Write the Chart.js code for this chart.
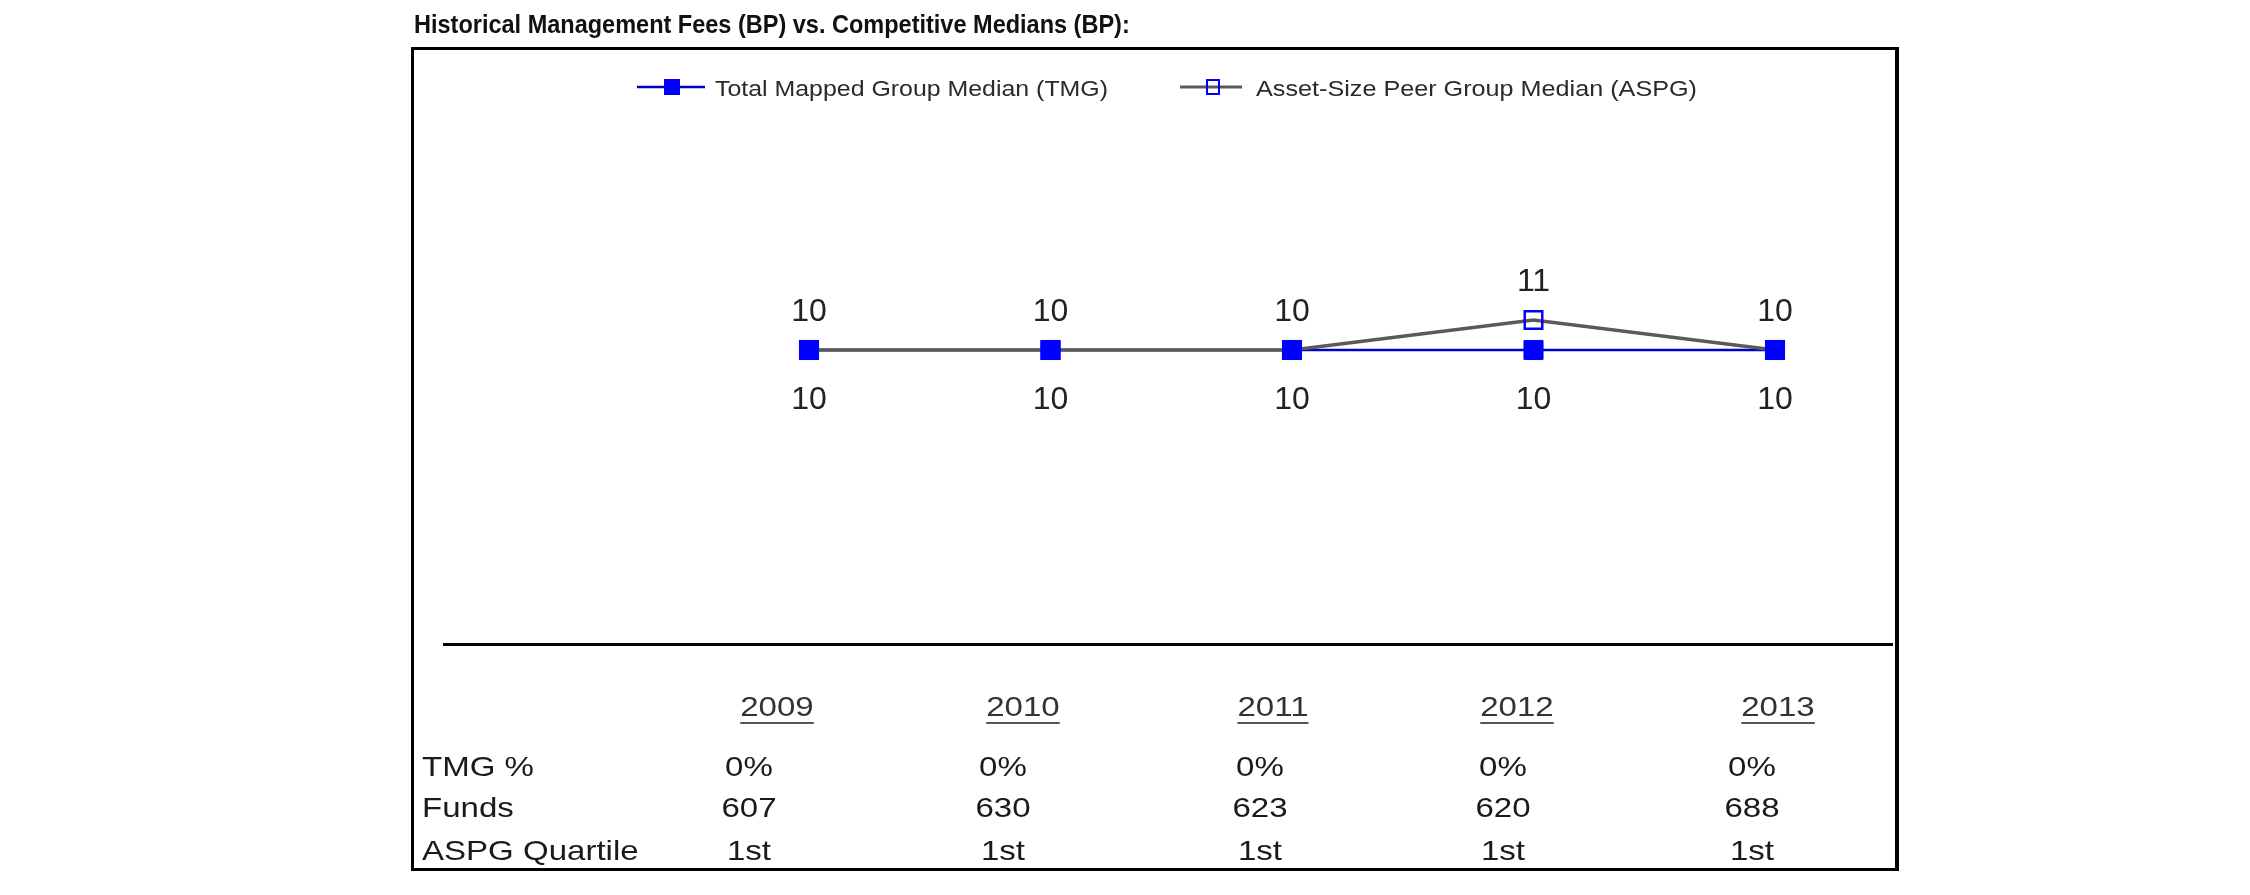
<!DOCTYPE html>
<html><head><meta charset="utf-8">
<script src="https://cdn.jsdelivr.net/npm/chart.js@4.4.1/dist/chart.umd.min.js"></script>
<style>
html,body{margin:0;padding:0;background:#fff;width:2250px;height:895px;overflow:hidden;}
#wrap{position:relative;width:2250px;height:895px;font-family:"Liberation Sans",Arial,sans-serif;}
canvas{position:absolute;left:0;top:0;}
.t{position:absolute;white-space:nowrap;line-height:1;}
#title{left:414px;top:11px;font-size:26px;font-weight:bold;color:#111;transform-origin:0 0;}
#box{position:absolute;left:411px;top:47px;width:1488px;height:824px;box-sizing:border-box;border-style:solid;border-color:#000;border-width:3px 4px 3px 3px;}
#sep{position:absolute;left:443px;top:643px;width:1450px;height:3px;background:#000;}
.cell{font-size:28px;color:#1a1a1a;}
.yr{color:#333;text-decoration:underline;text-decoration-color:#555;text-decoration-thickness:2px;text-underline-offset:6px;}
</style></head>
<body><div id="wrap">
<div id="box"></div><div id="sep"></div>
<canvas id="c" width="2250" height="895"></canvas>
<div id="title" class="t">Historical Management Fees (BP) vs. Competitive Medians (BP):</div>
<div id="table"></div>
</div>
<script>
// ---- data ----
const years = ['2009','2010','2011','2012','2013'];
const tmgMedian = [10,10,10,10,10];
const aspgMedian = [10,10,10,11,10];
const tmgPct = ['0%','0%','0%','0%','0%'];
const funds = ['607','630','623','620','688'];
const aspgQuartile = ['1st','1st','1st','1st','1st'];
const seriesNames = ['Total Mapped Group Median (TMG)','Asset-Size Peer Group Median (ASPG)'];
const rowNames = ['TMG %','Funds','ASPG Quartile'];

// ---- layout (not data) ----
const yearCenters = [777,1023,1273,1517,1778];
const valueCenters = [749,1003,1260,1503,1752];
const rowBaselines = [777,818,861];
const yearBaseline = 717;
const stretch = 1.18;

// title width fit
const title = document.getElementById('title');
title.style.transform = 'scaleX(' + (716 / title.offsetWidth) + ')';

// table
const table = document.getElementById('table');
function addCell(text, x, baseline, cls, center) {
  const d = document.createElement('div');
  d.className = 't cell ' + (cls || '');
  d.textContent = text;
  d.style.left = x + 'px';
  d.style.top = (baseline - 23.7) + 'px';
  if (center) {
    d.style.transform = 'translateX(-50%) scaleX(' + stretch + ')';
  } else {
    d.style.transformOrigin = '0 50%';
    d.style.transform = 'scaleX(' + stretch + ')';
  }
  table.appendChild(d);
}
years.forEach((y, i) => addCell(y, yearCenters[i], yearBaseline, 'yr', true));
const rows = [tmgPct, funds, aspgQuartile];
rows.forEach((r, ri) => {
  addCell(rowNames[ri], 422, rowBaselines[ri], '', false);
  r.forEach((v, i) => addCell(v, valueCenters[i], rowBaselines[ri], '', true));
});

const FONT = '"Liberation Sans", Arial, sans-serif';

const labelsPlugin = {
  id: 'valueLabels',
  afterDatasetsDraw(chart) {
    const ctx = chart.ctx;
    ctx.save();
    ctx.font = '32px ' + FONT;
    ctx.fillStyle = '#222';
    ctx.textAlign = 'center';
    ctx.textBaseline = 'middle';
    chart.getDatasetMeta(1).data.forEach((p, i) => {
      ctx.fillText(String(aspgMedian[i]), p.x, p.y - 38);
    });
    chart.getDatasetMeta(0).data.forEach((p, i) => {
      ctx.fillText(String(tmgMedian[i]), p.x, p.y + 50);
    });
    ctx.restore();
  }
};

const legendPlugin = {
  id: 'customLegend',
  afterDraw(chart) {
    const ctx = chart.ctx;
    ctx.save();
    const y = 87;
    // item 1
    ctx.strokeStyle = '#0000cc'; ctx.lineWidth = 2.5;
    ctx.beginPath(); ctx.moveTo(637, y); ctx.lineTo(705, y); ctx.stroke();
    ctx.fillStyle = '#0000ff';
    ctx.fillRect(672 - 8, y - 8, 16, 16);
    // item 2
    ctx.strokeStyle = '#5a5a5a'; ctx.lineWidth = 3;
    ctx.beginPath(); ctx.moveTo(1180, y); ctx.lineTo(1242, y); ctx.stroke();
    ctx.strokeStyle = '#0000ff'; ctx.lineWidth = 2;
    ctx.strokeRect(1213 - 6, y - 7, 12, 14);
    ctx.font = '22px ' + FONT;
    ctx.fillStyle = '#2a2a2a';
    ctx.textBaseline = 'alphabetic';
    const items = [[715, 393], [1256, 441]];
    items.forEach((it, i) => {
      const w = ctx.measureText(seriesNames[i]).width;
      ctx.save();
      ctx.translate(it[0], y + 9);
      ctx.scale(it[1] / w, 1);
      ctx.fillText(seriesNames[i], 0, 0);
      ctx.restore();
    });
    ctx.restore();
  }
};

new Chart(document.getElementById('c'), {
  type: 'line',
  data: {
    labels: years,
    datasets: [
      { label: seriesNames[0], data: tmgMedian, showLine: false, pointStyle: 'rect',
        pointRadius: 13.5, pointBackgroundColor: '#0000ff', pointBorderColor: '#0000ff',
        pointBorderWidth: 1, order: 0, clip: false },
      { label: seriesNames[1], data: aspgMedian, borderColor: '#5a5a5a', borderWidth: 3.5,
        pointStyle: 'rect', pointRadius: 12.4, pointBackgroundColor: 'rgba(0,0,0,0)',
        pointBorderColor: '#0000ff', pointBorderWidth: 2.5, order: 1, clip: false, tension: 0 },
      { label: seriesNames[0] + ' line', data: tmgMedian, borderColor: '#0000cc', borderWidth: 2.5,
        pointRadius: 0, order: 2, clip: false, tension: 0 }
    ]
  },
  options: {
    responsive: false, devicePixelRatio: 1, animation: false, events: [],
    layout: { padding: { left: 809, right: 475, top: 140, bottom: 245 } },
    scales: {
      x: { display: false, offset: false },
      y: { display: false, min: 0, max: 17 }
    },
    plugins: { legend: { display: false }, tooltip: { enabled: false }, title: { display: false } }
  },
  plugins: [labelsPlugin, legendPlugin]
});
</script>
</body></html>
